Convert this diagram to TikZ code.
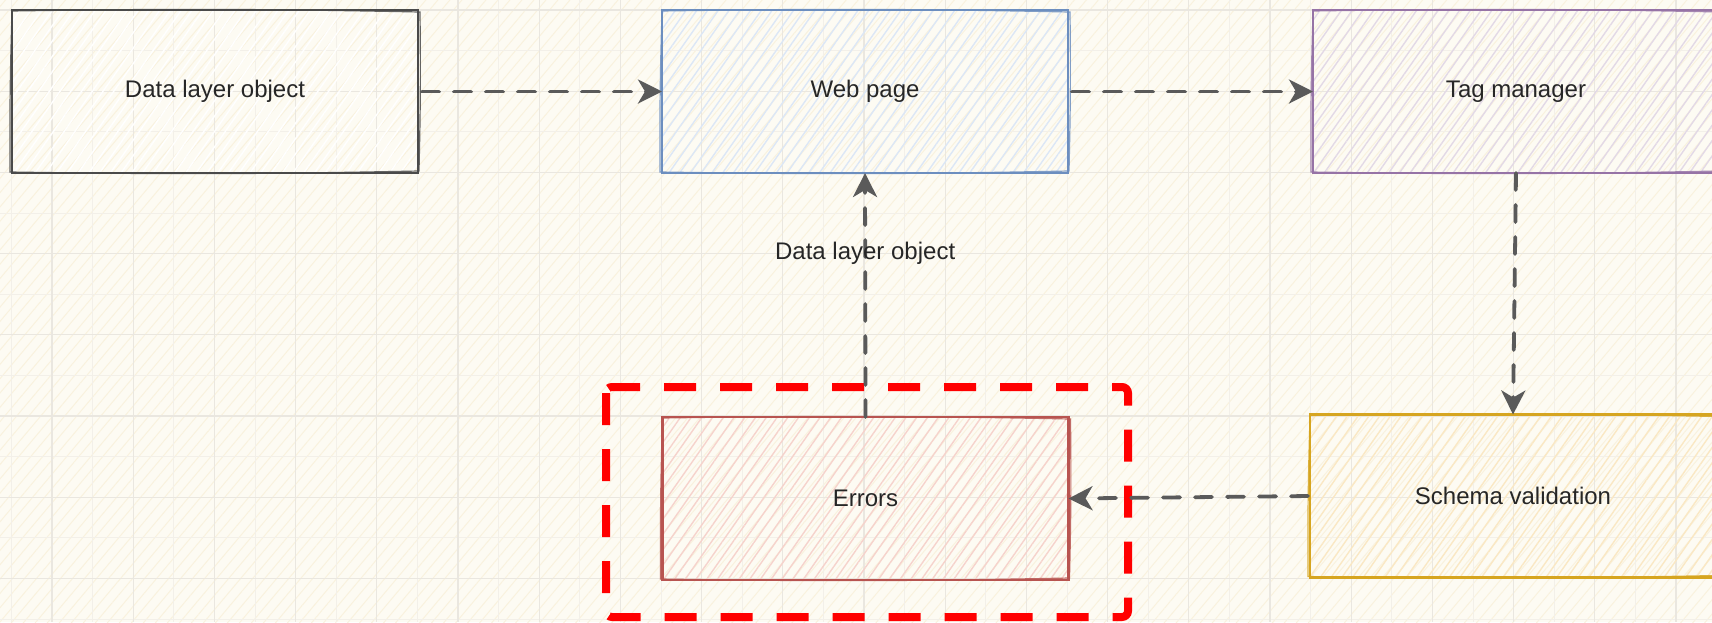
\documentclass[tikz,border=0pt]{standalone}
\usepackage{fontspec}
\setmainfont{Liberation Sans}
\usetikzlibrary{patterns.meta,arrows.meta,calc}
\definecolor{canvas}{HTML}{FDFBF3}
\definecolor{canvashatch}{HTML}{F9F2DE}
\definecolor{gridminor}{HTML}{F3F0E9}
\definecolor{gridmajor}{HTML}{EAE7E0}
\definecolor{txt}{HTML}{262626}
\definecolor{conncol}{HTML}{5A5A5A}
\definecolor{dlstroke}{HTML}{4A4A4A}
\definecolor{dlhatch}{HTML}{FFFFFF}
\definecolor{wpstroke}{HTML}{6C8EBF}
\definecolor{wphatch}{HTML}{DCE7F6}
\definecolor{tmstroke}{HTML}{9673A6}
\definecolor{tmhatch}{HTML}{E3D9E6}
\definecolor{erstroke}{HTML}{B85450}
\definecolor{erhatch}{HTML}{F6D3CC}
\definecolor{svstroke}{HTML}{D6A520}
\definecolor{svhatch}{HTML}{FAE8C4}
\definecolor{hilite}{HTML}{FF0000}
\newcommand{\roughedge}[2]{%
  \draw[#2, line width=0.6pt, opacity=0.85]
    ([shift={(-1,1)}]#1.north west) to[bend left=1]
    ([shift={(2,2)}]#1.north east) to[bend left=1]
    ([shift={(1,-2)}]#1.south east) to[bend left=1]
    ([shift={(-2,-1)}]#1.south west) to[bend left=1]
    ([shift={(0,2)}]#1.north west);}
\begin{document}
\begin{tikzpicture}[x=0.5pt,y=-0.5pt,
  box/.style={minimum width=203pt, minimum height=81.5pt, inner sep=0pt, outer sep=0pt,
    line width=1.1pt, font=\fontsize{12}{14}\selectfont, text=txt},
  hatch/.style={pattern={Lines[angle=55,distance=4.4pt,line width=0.7pt]}, pattern color=#1},
  conn/.style={draw=conncol, line width=1.9pt, line cap=round,
    dash pattern=on 8.5pt off 7.5pt,
    -{Stealth[length=12pt,width=12pt,inset=3.5pt]}},
  lbl/.style={font=\fontsize{12}{14}\selectfont, text=txt, inner sep=2pt},
  highlight/.style={draw=hilite, line width=4pt, dash pattern=on 16pt off 12pt, rounded corners=3pt}
]
\useasboundingbox (0,0) rectangle (1712,622);
\clip (0,0) rectangle (1712,622);
% canvas
\fill[canvas] (0,0) rectangle (1712,622);
\fill[pattern={Lines[angle=50,distance=4.6pt,line width=0.5pt]}, pattern color=canvashatch] (0,0) rectangle (1712,622);
% grid
\foreach \i in {0,...,42} {\draw[gridminor, line width=0.45pt] ({11.4+40.6*\i},0) -- ({11.4+40.6*\i},622);}
\foreach \j in {0,...,15} {\draw[gridminor, line width=0.45pt] (0,{10+40.6*\j}) -- (1712,{10+40.6*\j});}
\foreach \i in {0,...,20} {\draw[gridmajor, line width=0.55pt] ({52+81.2*\i},0) -- ({52+81.2*\i},622);}
\foreach \j in {0,...,7} {\draw[gridmajor, line width=0.55pt] (0,{10+81.2*\j}) -- (1712,{10+81.2*\j});}
% boxes
\node[box, draw=dlstroke, hatch=dlhatch] (dl) at (215,91.5) {Data layer object};
\node[box, draw=wpstroke, hatch=wphatch] (wp) at (865,91.5) {Web page};
\node[box, draw=tmstroke, hatch=tmhatch] (tm) at (1516,91.5) {Tag manager};
\node[box, draw=erstroke, hatch=erhatch] (er) at (865.5,498.5) {Errors};
\node[box, draw=svstroke, hatch=svhatch] (sv) at (1513,496) {Schema validation};
\roughedge{dl}{dlstroke}
\roughedge{wp}{wpstroke}
\roughedge{tm}{tmstroke}
\roughedge{er}{erstroke}
\roughedge{sv}{svstroke}
% highlight frame around Errors
\coordinate (hl1) at (606,387);
\coordinate (hl2) at (1128,617);
\draw[highlight] (hl1) rectangle (hl2);
% connectors
\draw[conn, shorten <=2pt] (dl.east) -- (wp.west);
\draw[conn, shorten <=2pt] (wp.east) -- (tm.west);
\draw[conn] (tm.south) -- (sv.north);
\draw[conn, shorten <=1pt] (sv.west) -- (er.east);
\draw[conn] (er.north) -- node[pos=0.67, lbl] {Data layer object} (wp.south);
\end{tikzpicture}
\end{document}
